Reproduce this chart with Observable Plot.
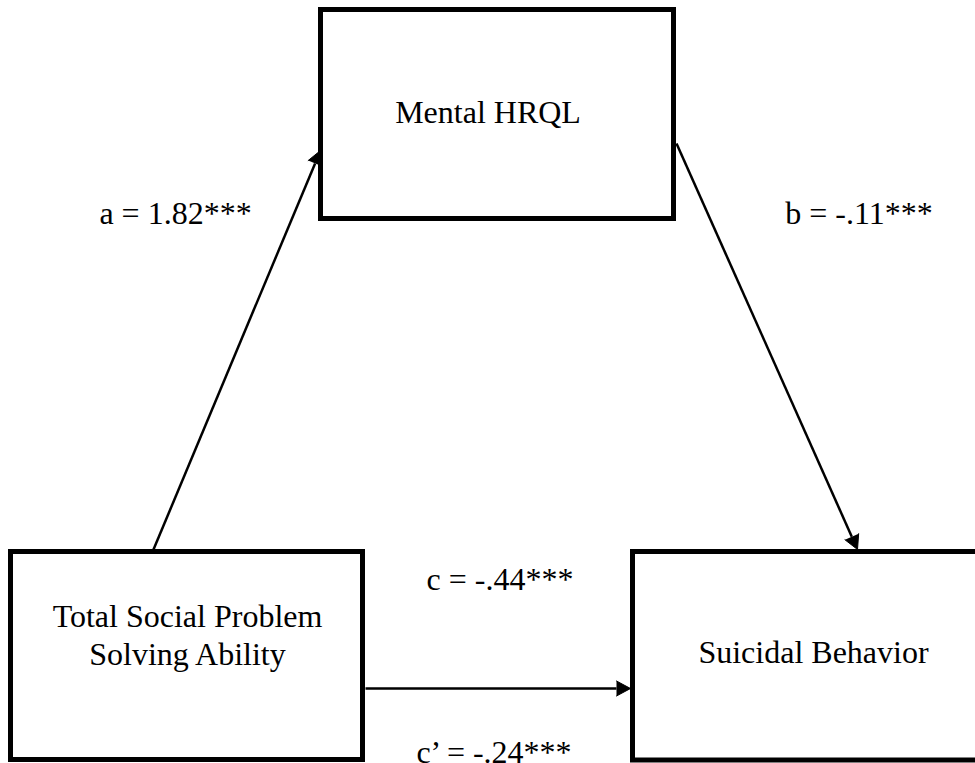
<!DOCTYPE html>
<html>
<head>
<meta charset="utf-8">
<script src="https://cdn.jsdelivr.net/npm/d3@7"></script>
<script src="https://cdn.jsdelivr.net/npm/@observablehq/plot@0.6"></script>
<style>
  html, body { margin: 0; padding: 0; background: #fff; overflow: hidden; }
</style>
</head>
<body>
<div id="chart"></div>
<script>
// Nodes of the mediation model
const nodeLabels = ["Mental HRQL", "Total Social Problem\nSolving Ability", "Suicidal Behavior"];
const nodeLeft   = [320.5, 10.5, 632.5];
const nodeRight  = [673.5, 362.5, 1000];
const nodeTop    = [9.5, 551.5, 551.5];
const nodeBottom = [218.5, 759.5, 760];
const nodeTextX  = [487.5, 187, 813];
const nodeTextY  = [122, 664, 662];

// Paths (arrows)
const pathNames = ["a", "b", "c"];
const pathFromX = [153, 676, 365];
const pathFromY = [549, 143, 688];
const pathToX   = [320, 857, 630];
const pathToY   = [150, 549, 688];

// Path coefficient labels
const coefLabels = ["a = 1.82***", "b = -.11***", "c = -.44***", "c\u2019 = -.24***"];
const coefX = [175, 858.5, 499.5, 493.5];
const coefY = [223, 223, 589, 762];

const W = 975, H = 763;
const headLen = 14, headHalf = 7.5;

const nodes = nodeLabels.map((label, i) => ({
  label, x1: nodeLeft[i], x2: nodeRight[i], y1: nodeTop[i], y2: nodeBottom[i],
  tx: nodeTextX[i], ty: nodeTextY[i]
}));

const arrows = pathNames.map((name, i) => {
  const sx = pathFromX[i], sy = pathFromY[i], tx = pathToX[i], ty = pathToY[i];
  const len = Math.hypot(tx - sx, ty - sy);
  const ux = (tx - sx) / len, uy = (ty - sy) / len;
  const bx = tx - headLen * ux, by = ty - headLen * uy;
  return {name, sx, sy, tx, ty, bx, by, nx: -uy, ny: ux};
});

const heads = arrows.flatMap(a => [
  {id: a.name, x: a.bx + headHalf * a.nx, y: a.by + headHalf * a.ny},
  {id: a.name, x: a.tx, y: a.ty},
  {id: a.name, x: a.bx - headHalf * a.nx, y: a.by - headHalf * a.ny}
]);

const coefs = coefLabels.map((label, i) => ({label, x: coefX[i], y: coefY[i]}));

const font = "'Liberation Serif', 'Times New Roman', serif";

const chart = Plot.plot({
  width: W,
  height: H,
  margin: 0,
  x: {domain: [0, W], range: [0, W], axis: null},
  y: {domain: [0, H], range: [0, H], axis: null},
  style: {background: "#fff", overflow: "hidden"},
  marks: [
    Plot.link(arrows, {x1: "sx", y1: "sy", x2: "bx", y2: "by", stroke: "#000", strokeWidth: 2.5}),
    Plot.line(heads, {x: "x", y: "y", z: "id", fill: "#000", stroke: "#000", strokeWidth: 1, strokeLinejoin: "miter"}),
    Plot.rect(nodes, {x1: "x1", x2: "x2", y1: "y1", y2: "y2", fill: "none", stroke: "#000", strokeWidth: 5}),
    Plot.text(nodes, {x: "tx", y: "ty", text: "label", fontFamily: font, fontSize: 32, fill: "#000",
      textAnchor: "middle", lineAnchor: "bottom", lineHeight: 1.16}),
    Plot.text(coefs, {x: "x", y: "y", text: "label", fontFamily: font, fontSize: 32, fill: "#000",
      textAnchor: "middle", lineAnchor: "bottom"})
  ]
});

document.getElementById("chart").appendChild(chart);
</script>
</body>
</html>
